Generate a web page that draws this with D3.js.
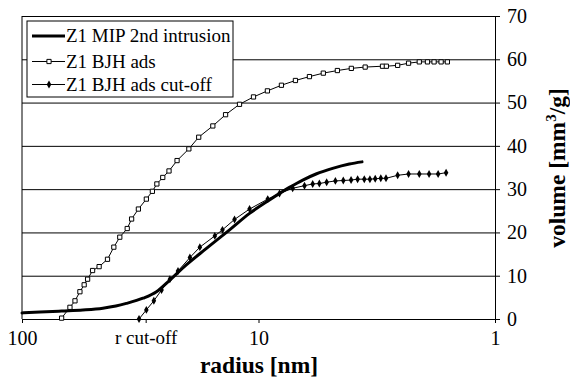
<!DOCTYPE html>
<html>
<head>
<meta charset="utf-8">
<script src="https://cdn.jsdelivr.net/npm/d3@7"></script>
<style>
  html, body { margin: 0; padding: 0; background: #fff; }
  svg { display: block; }
  svg text { font-family: "Liberation Serif", "Tinos", "Times New Roman", "DejaVu Serif", serif; fill: #000; }
</style>
</head>
<body>
<svg id="chart" width="570" height="382"></svg>
<script>
// Pore volume vs radius (log axis, decreasing to the right)
const seriesNames = ["Z1 MIP 2nd intrusion", "Z1 BJH ads", "Z1 BJH ads cut-off"];

const mipRadius = [100, 83.9, 68.0, 55.3, 45.5, 40.1, 36.2, 30.8, 27.0, 23.7, 20.2, 16.6,
  13.25, 10.91, 8.99, 7.40, 6.50, 5.71, 4.86, 4.13, 3.65];
const mipVolume = [1.4, 1.6, 1.85, 2.1, 2.5, 3.0, 3.6, 4.8, 6.3, 9.0, 12.5, 16.3,
  20.6, 24.4, 27.5, 30.4, 32.1, 33.5, 34.8, 35.8, 36.3];

const bjhRadius = [68.0, 62.7, 59.7, 56.9, 54.6, 52.8, 50.3, 47.2, 43.5, 40.9, 38.6, 35.9,
  34.4, 32.2, 29.8, 28.1, 26.9, 25.4, 23.9, 22.1, 19.7, 17.9, 15.6, 13.78, 12.03, 10.50,
  9.17, 8.00, 6.98, 6.09, 5.32, 4.64, 4.05, 3.54, 2.99, 2.88, 2.58, 2.32, 2.09, 1.93,
  1.81, 1.69, 1.59];
const bjhVolume = [0.2, 2.7, 4.2, 6.3, 7.9, 9.2, 11.2, 12.1, 13.8, 16.6, 18.9, 20.9,
  23.1, 25.4, 27.7, 29.5, 31.2, 32.7, 34.2, 36.6, 39.3, 42.0, 44.6, 47.2, 49.6, 51.3,
  52.7, 54.0, 55.1, 56.0, 56.8, 57.4, 57.9, 58.2, 58.4, 58.4, 58.6, 59.1, 59.4, 59.4,
  59.4, 59.4, 59.4];

const cutRadius = [32.0, 29.8, 27.7, 25.7, 23.7, 21.9, 19.5, 17.7, 15.3, 14.2, 12.63, 10.91,
  9.14, 8.15, 7.17, 6.39, 5.90, 5.53, 5.15, 4.73, 4.38, 4.06, 3.81, 3.57, 3.38, 3.21,
  3.04, 2.89, 2.58, 2.32, 2.09, 1.90, 1.74, 1.61];
const cutVolume = [0, 2.1, 4.2, 6.7, 9.2, 11.1, 14.2, 16.6, 19.2, 20.6, 23.0, 25.4,
  27.7, 29.0, 30.2, 30.8, 31.2, 31.3, 31.6, 31.9, 32.0, 32.1, 32.3, 32.3, 32.3, 32.4,
  32.5, 32.5, 33.2, 33.5, 33.5, 33.5, 33.5, 33.8];

const xTicks = [100, 10, 1];
const yTicks = [0, 10, 20, 30, 40, 50, 60, 70];
const cutoffRadius = 30;
const cutoffLabel = "r cut-off";

const zip = (rs, vs) => rs.map((r, i) => ({ r, v: vs[i] }));
const mip = zip(mipRadius, mipVolume);
const bjh = zip(bjhRadius, bjhVolume);
const cut = zip(cutRadius, cutVolume);

const svg = d3.select("#chart");
const L = 22, R = 495, T = 16, B = 319;

const x = d3.scaleLog().domain([100, 1]).range([L, R]);
const y = d3.scaleLinear().domain([0, 70]).range([B, T]);

// horizontal gridlines
svg.append("g")
  .attr("transform", `translate(${R},0)`)
  .call(d3.axisLeft(y).tickValues(yTicks.slice(1)).tickSize(R - L).tickFormat(""))
  .call(g => g.select(".domain").remove())
  .selectAll("line").attr("stroke", "#000").attr("stroke-width", 1);

// left frame edge
svg.append("line")
  .attr("x1", L).attr("x2", L).attr("y1", y(70)).attr("y2", B)
  .attr("stroke", "#000").attr("stroke-width", 1);

// clear the font attribute d3 puts on axis groups so the stylesheet applies
const plainAxis = g => g.attr("font-family", null).attr("font-size", null);

// x axis (radius)
const xAxis = svg.append("g")
  .attr("transform", `translate(0,${B})`)
  .call(d3.axisBottom(x).tickValues(xTicks).tickSize(4).tickSizeOuter(0).tickPadding(8)
    .tickFormat(d3.format("d")))
  .call(plainAxis);
xAxis.select(".domain").attr("stroke", "#000");
xAxis.selectAll("line").attr("stroke", "#000");
xAxis.selectAll("text").style("font-size", "20px");

// cut-off radius marker on the x axis
const cutAxis = svg.append("g")
  .attr("transform", `translate(0,${B})`)
  .call(d3.axisBottom(x).tickValues([cutoffRadius]).tickSize(4).tickPadding(8)
    .tickFormat(() => cutoffLabel))
  .call(plainAxis);
cutAxis.select(".domain").remove();
cutAxis.selectAll("line").attr("stroke", "#000");
cutAxis.selectAll("text").style("font-size", "19px");

// y axis on the right (volume)
const yAxis = svg.append("g")
  .attr("transform", `translate(${R},0)`)
  .call(d3.axisRight(y).tickValues(yTicks).tickSize(5).tickSizeOuter(0).tickPadding(7)
    .tickFormat(d3.format("d")))
  .call(plainAxis);
yAxis.select(".domain").attr("stroke", "#000");
yAxis.selectAll("line").attr("stroke", "#000");
yAxis.selectAll("text").style("font-size", "20px");

// series
const line = d3.line().x(d => x(d.r)).y(d => y(d.v));
const smooth = d3.line().x(d => x(d.r)).y(d => y(d.v)).curve(d3.curveMonotoneX);

svg.append("path").datum(bjh)
  .attr("d", line).attr("fill", "none").attr("stroke", "#000").attr("stroke-width", 1);
svg.append("path").datum(cut)
  .attr("d", line).attr("fill", "none").attr("stroke", "#000").attr("stroke-width", 1);
svg.append("path").datum(mip)
  .attr("d", smooth).attr("fill", "none").attr("stroke", "#000").attr("stroke-width", 3)
  .attr("stroke-linejoin", "round").attr("stroke-linecap", "round");

const square = d3.symbol().type(d3.symbolSquare).size(18);
const diamond = d3.symbol().type(d3.symbolDiamond).size(18);

svg.append("g").selectAll("path").data(bjh).join("path")
  .attr("transform", d => `translate(${x(d.r)},${y(d.v)})`)
  .attr("d", square).attr("fill", "#fff").attr("stroke", "#000").attr("stroke-width", 1);
svg.append("g").selectAll("path").data(cut).join("path")
  .attr("transform", d => `translate(${x(d.r)},${y(d.v)})`)
  .attr("d", diamond).attr("fill", "#000");

// legend
const lg = svg.append("g");
lg.append("rect").attr("x", 27).attr("y", 21).attr("width", 206).attr("height", 76)
  .attr("fill", "#fff").attr("stroke", "#000").attr("stroke-width", 1);
const rows = [36, 61.5, 84.5];
seriesNames.forEach((name, i) => {
  const cy = rows[i];
  lg.append("line").attr("x1", 32).attr("x2", 65).attr("y1", cy).attr("y2", cy)
    .attr("stroke", "#000").attr("stroke-width", i === 0 ? 3 : 1);
  if (i === 1) lg.append("path").attr("transform", `translate(49,${cy})`)
    .attr("d", square).attr("fill", "#fff").attr("stroke", "#000");
  if (i === 2) lg.append("path").attr("transform", `translate(49,${cy})`)
    .attr("d", diamond).attr("fill", "#000");
  lg.append("text").attr("x", 66).attr("y", cy).attr("dy", "0.33em")
    .style("font-size", "19px").text(name);
});

// axis titles
svg.append("text").attr("x", 259).attr("y", 373).attr("text-anchor", "middle")
  .style("font-size", "23.5px").style("font-weight", "bold")
  .text("radius [nm]");

const yt = svg.append("text")
  .attr("transform", "translate(565,168) rotate(-90)")
  .attr("text-anchor", "middle").style("font-size", "23.5px").style("font-weight", "bold");
yt.append("tspan").text("volume [mm");
yt.append("tspan").style("font-size", "15px").attr("dy", -9).text("3");
yt.append("tspan").attr("dy", 9).text("/g]");
</script>
</body>
</html>
